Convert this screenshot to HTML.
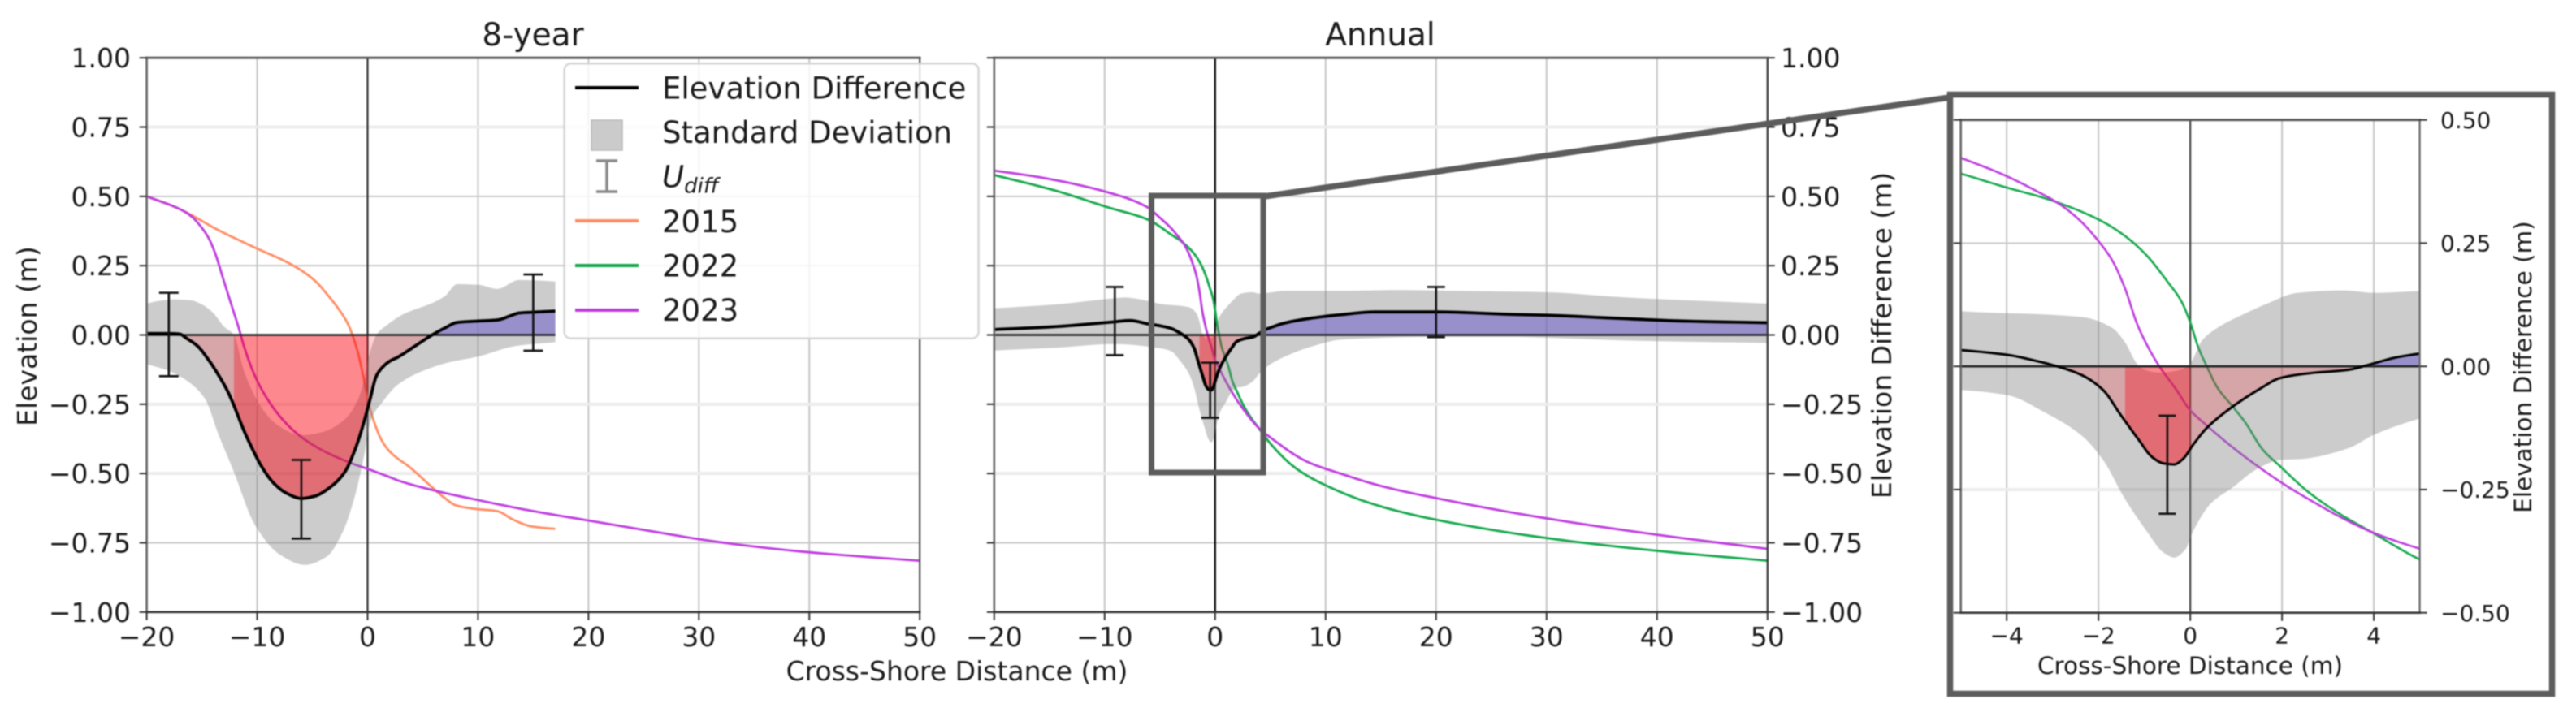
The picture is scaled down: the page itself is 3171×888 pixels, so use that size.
<!DOCTYPE html>
<html lang="en">
<head>
<meta charset="utf-8">
<title>Elevation difference chart</title>
<style>
html,body{margin:0;padding:0;background:#fff;width:3171px;height:880px;overflow:hidden;}
#frame{position:absolute;left:0;top:0;width:3171px;height:880px;overflow:hidden;}
svg{display:block;overflow:hidden;}
#root{filter:blur(0.8px);}
text{font-family:"DejaVu Sans","Liberation Sans",sans-serif;fill:#1a1a1a;}
</style>
</head>
<body>
<div id="frame">
<svg id="chart" xmlns="http://www.w3.org/2000/svg" width="3171" height="880" viewBox="0 0 3171 880">
  <g id="root">
  <g id="panel-a"></g>
  <g id="panel-b"></g>

  <text x="656" y="56" font-size="39" text-anchor="middle">8-year</text>
  <text x="1699" y="56" font-size="39" text-anchor="middle">Annual</text>
  <text x="1178" y="838" font-size="33" text-anchor="middle">Cross-Shore Distance (m)</text>
  <text transform="translate(45 414) rotate(-90)" font-size="33" text-anchor="middle">Elevation (m)</text>
  <text transform="translate(2328 413) rotate(-90)" font-size="33" text-anchor="middle">Elevation Difference (m)</text>

  <g>
    <rect x="694.6" y="78.3" width="510" height="338.4" rx="8" ry="8" fill="rgba(255,255,255,0.8)" stroke="rgba(204,204,204,0.8)" stroke-width="2.5"/>
    <line x1="708" y1="108" x2="786" y2="108" stroke="#000" stroke-width="4"/>
    <text x="815" y="121.7" font-size="37">Elevation Difference</text>
    <rect x="728" y="148" width="38" height="37" fill="#cbcbcb" stroke="#b8b8b8" stroke-width="1.5"/>
    <text x="815" y="176" font-size="37">Standard Deviation</text>
    <g stroke="#8a8a8a" stroke-width="3.5">
      <line x1="747" y1="198" x2="747" y2="236"/>
      <line x1="734" y1="198" x2="760" y2="198"/>
      <line x1="734" y1="236" x2="760" y2="236"/>
    </g>
    <text x="815" y="230.7" font-size="37" font-style="italic">U<tspan font-size="26" dy="7">diff</tspan></text>
    <line x1="708" y1="272" x2="786" y2="272" stroke="#ff8c64" stroke-width="4"/>
    <text x="815" y="286" font-size="37">2015</text>
    <line x1="708" y1="327" x2="786" y2="327" stroke="#12a84a" stroke-width="4"/>
    <text x="815" y="340.7" font-size="37">2022</text>
    <line x1="708" y1="382" x2="786" y2="382" stroke="#bf3be0" stroke-width="4"/>
    <text x="815" y="395" font-size="37">2023</text>
  </g>

  <rect x="1417.5" y="241" width="137.5" height="341" fill="none" stroke="#5c5c5c" stroke-width="7"/>
  <line x1="1556" y1="242" x2="2400" y2="120" stroke="#5c5c5c" stroke-width="7.5"/>
  <rect x="2400.5" y="116.5" width="741" height="738" fill="#fff" stroke="#5c5c5c" stroke-width="7.5"/>
  <g id="panel-c"></g>
  <text x="2696" y="830" font-size="29.5" text-anchor="middle">Cross-Shore Distance (m)</text>
  <text transform="translate(3116 452) rotate(-90)" font-size="29.5" text-anchor="middle">Elevation Difference (m)</text>
  </g>
</svg>
</div>

<script>
// ---------- tick data ----------
const xTicksMain = [-20, -10, 0, 10, 20, 30, 40, 50];
const xTickLabelsMain = ['\u221220', '\u221210', '0', '10', '20', '30', '40', '50'];
const yTicksMain = [-1, -0.75, -0.5, -0.25, 0, 0.25, 0.5, 0.75, 1];
const yTickLabelsMain = ['\u22121.00', '\u22120.75', '\u22120.50', '\u22120.25', '0.00', '0.25', '0.50', '0.75', '1.00'];
const paleGridMain = [0.75, -0.25, -0.5];
const xTicksInset = [-4, -2, 0, 2, 4];
const xTickLabelsInset = ['\u22124', '\u22122', '0', '2', '4'];
const yTicksInset = [-0.5, -0.25, 0, 0.25, 0.5];
const yTickLabelsInset = ['\u22120.50', '\u22120.25', '0.00', '0.25', '0.50'];
const paleGridInset = [-0.25];

// ---------- 8-year series ----------
const diff8X = [-20, -18, -17, -16.4, -15.4, -14.4, -13.5, -12.65, -12.15, -11.2, -10.2, -9.7, -8.5, -7.3, -6, -4.8, -3.4, -2.1, -1.1, -0.4, 0.2, 0.8, 1.3, 2, 2.75, 4.3, 5.85, 7, 8.1, 10, 11.75, 13, 13.7, 15, 17];
const diff8Y = [0.005, 0.005, 0.003, -0.012, -0.04, -0.09, -0.145, -0.205, -0.25, -0.345, -0.43, -0.468, -0.535, -0.572, -0.59, -0.582, -0.55, -0.497, -0.41, -0.324, -0.236, -0.148, -0.119, -0.095, -0.08, -0.04, 0, 0.025, 0.045, 0.05, 0.054, 0.07, 0.079, 0.082, 0.086];
const upper8X = [-20, -19, -17.5, -16, -15, -14, -13, -12.1, -11.2, -9.7, -8.2, -6, -4.06, -2.1, -0.9, -0.3, 0.1, 0.8, 1.8, 3.3, 5.85, 7, 8.1, 10, 11.75, 13.7, 15, 17];
const upper8Y = [0.113, 0.122, 0.128, 0.125, 0.11, 0.08, 0.03, 0, -0.13, -0.256, -0.324, -0.362, -0.35, -0.306, -0.236, -0.16, -0.08, 0, 0.037, 0.076, 0.115, 0.14, 0.183, 0.181, 0.166, 0.198, 0.197, 0.193];
const lower8X = [-20, -18, -16.4, -14.7, -13.55, -12.15, -10.2, -7.9, -5.7, -3.7, -2.3, -1.2, -0.34, 0.3, 1.35, 2.75, 5, 7.25, 10, 13.4, 17];
const lower8Y = [-0.105, -0.13, -0.164, -0.232, -0.354, -0.49, -0.686, -0.794, -0.83, -0.8, -0.715, -0.589, -0.44, -0.306, -0.242, -0.179, -0.13, -0.1, -0.078, -0.04, -0.026];
const line2015X = [-20, -16.9, -13.55, -10.2, -6.8, -4.84, -3.43, -2.3, -1.75, -0.9, -0.4, 0.1, 0.6, 1.3, 2.06, 3.9, 5.85, 7, 8, 9.8, 11.75, 13.2, 14.85, 17];
const line2015Y = [0.5, 0.452, 0.379, 0.315, 0.252, 0.198, 0.135, 0.075, 0.037, -0.06, -0.148, -0.247, -0.315, -0.382, -0.423, -0.48, -0.55, -0.589, -0.615, -0.628, -0.636, -0.667, -0.691, -0.7];
const line2023X8 = [-20, -16.9, -15.9, -15, -14.4, -13.85, -13, -12.15, -11.7, -11.2, -10.2, -9, -7.7, -6.3, -4.3, -1.6, 0.1, 2.06, 2.75, 6.1, 10, 14.6, 19.9, 26.4, 30, 34.25, 39.9, 45.5, 50];
const line2023Y8 = [0.5, 0.452, 0.426, 0.386, 0.35, 0.3, 0.193, 0.086, 0.03, -0.04, -0.148, -0.236, -0.305, -0.359, -0.412, -0.461, -0.485, -0.514, -0.525, -0.562, -0.596, -0.633, -0.669, -0.713, -0.737, -0.76, -0.784, -0.802, -0.815];
const errX8 = [-18, -6, 15];
const errLow8 = [-0.149, -0.735, -0.057];
const errHigh8 = [0.152, -0.451, 0.218];
const erosionRange8 = [-12.1, 0];
const accretionStart8 = 5.85;

// ---------- annual series ----------
const diffAX = [-20, -14.4, -9.2, -7.7, -6.1, -5, -3.96, -3.4, -2.83, -2.36, -1.9, -1.52, -1.14, -0.82, -0.58, -0.35, -0.16, 0.07, 0.36, 0.92, 1.53, 1.95, 2.6, 3.45, 3.92, 4.48, 5, 6.2, 8.8, 11.4, 14.5, 20, 26.9, 30, 37.2, 42.4, 50];
const diffAY = [0.0195, 0.03, 0.047, 0.052, 0.04, 0.033, 0.023, 0.012, -0.002, -0.018, -0.048, -0.098, -0.147, -0.185, -0.197, -0.199, -0.188, -0.158, -0.125, -0.082, -0.045, -0.024, -0.014, -0.007, 0.004, 0.018, 0.026, 0.042, 0.061, 0.073, 0.083, 0.083, 0.074, 0.071, 0.0585, 0.05, 0.044];
const upperAX = [-20, -14.4, -9.2, -8.2, -6, -5, -2.36, -1.7, -1.43, -1.15, -1, -0.68, -0.2, 0, 0.26, 0.64, 1.1, 1.67, 2.33, 3.36, 4, 5, 6.2, 11.4, 16.6, 21.7, 30, 37.2, 50];
const upperAY = [0.096, 0.11, 0.132, 0.135, 0.122, 0.112, 0.1, 0.078, 0.05, 0.004, -0.007, -0.0126, -0.007, 0.0066, 0.053, 0.081, 0.103, 0.127, 0.149, 0.154, 0.149, 0.153, 0.159, 0.159, 0.162, 0.159, 0.154, 0.135, 0.113];
const lowerAX = [-20, -14.4, -9.2, -5, -3.96, -3.2, -2.36, -1.9, -1.43, -0.96, -0.58, -0.35, -0.11, 0.07, 0.45, 0.92, 1.48, 1.95, 2.42, 3.45, 4, 5, 6.2, 8.8, 11.4, 19.7, 26.9, 30, 37.2, 50];
const lowerAY = [-0.056, -0.046, -0.033, -0.048, -0.059, -0.092, -0.141, -0.19, -0.268, -0.333, -0.378, -0.388, -0.372, -0.333, -0.278, -0.246, -0.207, -0.19, -0.188, -0.166, -0.139, -0.106, -0.08, -0.041, -0.017, -0.007, -0.007, -0.01, -0.02, -0.029];
const line2022X = [-20, -14.4, -9.75, -5.9, -5, -4.05, -3.1, -2, -1.43, -0.96, -0.49, -0.2, 0, 0.17, 0.36, 0.59, 0.92, 1.2, 1.58, 1.95, 2.6, 3.27, 4, 5, 7.3, 9.86, 14.5, 20, 30, 40, 50];
const line2022Y = [0.577, 0.52, 0.461, 0.413, 0.391, 0.364, 0.339, 0.298, 0.265, 0.226, 0.171, 0.133, 0.089, 0.04, 0, -0.043, -0.081, -0.114, -0.169, -0.202, -0.257, -0.3, -0.339, -0.392, -0.481, -0.54, -0.613, -0.667, -0.733, -0.779, -0.815];
const line2023XA = [-20, -15.9, -9.75, -6.14, -5, -4.05, -3.4, -2.83, -2.36, -2, -1.7, -1.43, -1.15, -0.86, -0.68, -0.3, -0.02, 0.36, 0.92, 1.58, 2.14, 2.7, 3.36, 4, 5, 8.3, 11.4, 15, 20, 30, 40, 50];
const line2023YA = [0.593, 0.569, 0.515, 0.461, 0.423, 0.388, 0.358, 0.328, 0.292, 0.254, 0.215, 0.16, 0.084, 0.029, 0.001, -0.048, -0.087, -0.12, -0.164, -0.21, -0.245, -0.276, -0.31, -0.338, -0.37, -0.457, -0.501, -0.545, -0.589, -0.662, -0.721, -0.772];
const errXA = [-9.08, -0.45, 20];
const errLowA = [-0.073, -0.299, -0.008];
const errHighA = [0.173, -0.1, 0.173];
const errXInset = [-0.5];
const errLowInset = [-0.299];
const errHighInset = [-0.1];
const erosionRangeA = [-1.42, 0];
const accretionStartA = 3.4;

// ---------- helpers ----------
const NS = 'http://www.w3.org/2000/svg';
function mk(tag, attrs, parent) {
  const el = document.createElementNS(NS, tag);
  for (const k in attrs) el.setAttribute(k, attrs[k]);
  parent.appendChild(el);
  return el;
}
// monotone cubic sampling of a data series, returned as pixel points
function sample(xs, ys, sx, sy) {
  const n = xs.length, d = [], m = new Array(n);
  for (let i = 0; i < n - 1; i++) d.push((ys[i + 1] - ys[i]) / (xs[i + 1] - xs[i]));
  m[0] = d[0]; m[n - 1] = d[n - 2];
  for (let i = 1; i < n - 1; i++) {
    if (d[i - 1] * d[i] <= 0) { m[i] = 0; continue; }
    const h0 = xs[i] - xs[i - 1], h1 = xs[i + 1] - xs[i];
    const w1 = 2 * h1 + h0, w2 = h1 + 2 * h0;
    m[i] = (w1 + w2) / (w1 / d[i - 1] + w2 / d[i]);
  }
  const pts = [];
  for (let i = 0; i < n - 1; i++) {
    const h = xs[i + 1] - xs[i];
    for (let s = 0; s < 8; s++) {
      const t = s / 8, t2 = t * t, t3 = t2 * t;
      const v = (2 * t3 - 3 * t2 + 1) * ys[i] + (t3 - 2 * t2 + t) * h * m[i] + (-2 * t3 + 3 * t2) * ys[i + 1] + (t3 - t2) * h * m[i + 1];
      pts.push([sx(xs[i] + t * h), sy(v)]);
    }
  }
  pts.push([sx(xs[n - 1]), sy(ys[n - 1])]);
  return pts;
}
function toPath(pts) {
  return pts.map((p, i) => (i ? 'L' : 'M') + p[0].toFixed(2) + ' ' + p[1].toFixed(2)).join('');
}

function drawAxes(cfg) {
  const g = cfg.group;
  const sx = v => cfg.left + (v - cfg.xlim[0]) * (cfg.right - cfg.left) / (cfg.xlim[1] - cfg.xlim[0]);
  const sy = v => cfg.bottom - (v - cfg.ylim[0]) * (cfg.bottom - cfg.top) / (cfg.ylim[1] - cfg.ylim[0]);
  const defs = mk('defs', {}, g);
  function addClip(id, x, y, w, h) {
    const c = mk('clipPath', { id: id }, defs);
    mk('rect', { x: x, y: y, width: w, height: h }, c);
    return 'url(#' + id + ')';
  }
  const W = cfg.right - cfg.left, zeroY = sy(0);
  const axesClip = addClip(cfg.id + '-axes', cfg.left, cfg.top, W, cfg.bottom - cfg.top);
  const belowClip = addClip(cfg.id + '-below', cfg.left, zeroY, W, cfg.bottom - zeroY);
  const aboveClip = addClip(cfg.id + '-above', sx(cfg.accretionStart), cfg.top, cfg.right - sx(cfg.accretionStart), zeroY - cfg.top);
  const brightClip = addClip(cfg.id + '-bright', sx(cfg.erosion[0]), zeroY, sx(cfg.erosion[1]) - sx(cfg.erosion[0]), cfg.bottom - zeroY);

  // grid
  cfg.xTicks.forEach(v => {
    if (v === 0) return;
    const el = mk('line', { x1: sx(v), x2: sx(v), y1: cfg.top, y2: cfg.bottom, stroke: '#c6c6c6', 'stroke-width': 2 }, g);
    
    
  });
  cfg.yTicks.forEach(v => {
    if (v === 0 || v === cfg.ylim[0] || v === cfg.ylim[1]) return;
    const pale = cfg.paleGrid.includes(v);
    const el = mk('line', { x1: cfg.left, x2: cfg.right, y1: sy(v), y2: sy(v), stroke: pale ? '#ececec' : '#c8c8c8', 'stroke-width': pale ? 4 : 2 }, g);
    
    
  });

  // shoreline reference
  const vz = mk('line', { x1: sx(0), x2: sx(0), y1: cfg.top, y2: cfg.bottom, stroke: cfg.zeroColor, 'stroke-width': 2.2 }, g);
  
  

  // profile lines (under the band and fills)
  cfg.lines.forEach(l => {
    const el = mk('path', { d: toPath(sample(l.x, l.y, sx, sy)), fill: 'none', stroke: l.color, 'stroke-width': cfg.lineWidth, 'clip-path': axesClip, 'stroke-linejoin': 'round' }, g);
    
    
  });

  // standard deviation band
  const up = sample(cfg.upperX, cfg.upperY, sx, sy);
  const lo = sample(cfg.lowerX, cfg.lowerY, sx, sy).reverse();
  const band = mk('path', { d: toPath(up.concat(lo)) + 'Z', fill: 'rgba(128,128,128,0.4)', 'clip-path': axesClip }, g);
  
  

  // fills between the difference and zero
  const diffPts = sample(cfg.diffX, cfg.diffY, sx, sy);
  const diffArea = toPath(diffPts) + 'L' + diffPts[diffPts.length - 1][0] + ' ' + zeroY + 'L' + diffPts[0][0] + ' ' + zeroY + 'Z';
  const pale = mk('path', { d: diffArea, fill: 'rgba(255,0,16,0.19)', 'clip-path': belowClip }, g);
  
  
  const bright = mk('path', { d: diffArea, fill: 'rgba(250,0,16,0.34)', 'clip-path': brightClip }, g);
  
  
  const accretion = mk('path', { d: diffArea, fill: 'rgba(110,95,200,0.55)', 'clip-path': aboveClip }, g);
  
  

  // zero line sits above the fills
  const hz = mk('line', { x1: cfg.left, x2: sx(cfg.zeroEnd), y1: zeroY, y2: zeroY, stroke: '#222', 'stroke-width': 2.6 }, g);
  
  

  // difference line
  const diffLine = mk('path', { d: toPath(diffPts), fill: 'none', stroke: '#000', 'stroke-width': cfg.diffWidth, 'clip-path': axesClip, 'stroke-linejoin': 'round' }, g);
  
  

  // error bars
  cfg.errX.forEach((v, i) => {
    const eg = mk('g', { stroke: '#111', 'stroke-width': 2.6 }, g);
    
    
    const x = sx(v), a = sy(cfg.errLow[i]), b = sy(cfg.errHigh[i]), c = cfg.capHalf;
    mk('line', { x1: x, x2: x, y1: a, y2: b }, eg);
    mk('line', { x1: x - c, x2: x + c, y1: a, y2: a }, eg);
    mk('line', { x1: x - c, x2: x + c, y1: b, y2: b }, eg);
  });

  // spines
  [['left', cfg.left, cfg.top, cfg.left, cfg.bottom, '#666', 2.6],
   ['right', cfg.right, cfg.top, cfg.right, cfg.bottom, cfg.rightSpine, 2.2],
   ['top', cfg.left, cfg.top, cfg.right, cfg.top, '#555', 2.8],
   ['bottom', cfg.left, cfg.bottom, cfg.right, cfg.bottom, '#333', 2.6]].forEach(s => {
    const el = mk('line', { x1: s[1], y1: s[2], x2: s[3], y2: s[4], stroke: s[5], 'stroke-width': s[6], 'stroke-linecap': 'square' }, g);
    
    
  });

  // x ticks
  cfg.xTicks.forEach((v, i) => {
    const t = mk('line', { x1: sx(v), x2: sx(v), y1: cfg.bottom, y2: cfg.bottom + 10, stroke: '#333', 'stroke-width': 2 }, g);
    
    
    const l = mk('text', { x: sx(v), y: cfg.xLabelY, 'font-size': cfg.tickFont, 'text-anchor': 'middle' }, g);
    
    
    l.textContent = cfg.xLabels[i];
  });
  // y ticks
  cfg.yTicks.forEach((v, i) => {
    if (cfg.tickLeft) {
      const t = mk('line', { x1: cfg.left - 9, x2: cfg.left, y1: sy(v), y2: sy(v), stroke: '#333', 'stroke-width': 2 }, g);
      
      
    }
    if (cfg.tickRight) {
      const t = mk('line', { x1: cfg.right, x2: cfg.right + 9, y1: sy(v), y2: sy(v), stroke: '#333', 'stroke-width': 2 }, g);
      
      
    }
    const l = mk('text', { x: cfg.yLabelX, y: sy(v) + cfg.tickFont * 0.365, 'font-size': cfg.tickFont, 'text-anchor': cfg.yLabelAnchor }, g);
    
    
    l.textContent = cfg.yLabels[i];
  });
}

drawAxes({
  id: 'a', group: document.getElementById('panel-a'),
  left: 180.6, right: 1132.2, top: 71.2, bottom: 753.8, xlim: [-20, 50], ylim: [-1, 1],
  xTicks: xTicksMain, xLabels: xTickLabelsMain, yTicks: yTicksMain, yLabels: yTickLabelsMain, paleGrid: paleGridMain,
  zeroColor: '#333', zeroEnd: 17, rightSpine: '#555', tickFont: 33, xLabelY: 796, yLabelX: 161, yLabelAnchor: 'end',
  tickLeft: true, tickRight: false, lineWidth: 2.8, diffWidth: 3.8, capHalf: 12,
  lines: [{ x: line2015X, y: line2015Y, color: '#ff8c64' }, { x: line2023X8, y: line2023Y8, color: '#bf3be0' }],
  upperX: upper8X, upperY: upper8Y, lowerX: lower8X, lowerY: lower8Y, diffX: diff8X, diffY: diff8Y,
  erosion: erosionRange8, accretionStart: accretionStart8, errX: errX8, errLow: errLow8, errHigh: errHigh8
});

drawAxes({
  id: 'b', group: document.getElementById('panel-b'),
  left: 1223.8, right: 2175.8, top: 71.2, bottom: 753.8, xlim: [-20, 50], ylim: [-1, 1],
  xTicks: xTicksMain, xLabels: xTickLabelsMain, yTicks: yTicksMain, yLabels: yTickLabelsMain, paleGrid: paleGridMain,
  zeroColor: '#000', zeroEnd: 50, rightSpine: '#333', tickFont: 33, xLabelY: 796, yLabelX: 2192, yLabelAnchor: 'start',
  tickLeft: true, tickRight: true, lineWidth: 2.8, diffWidth: 3.8, capHalf: 11,
  lines: [{ x: line2022X, y: line2022Y, color: '#12a84a' }, { x: line2023XA, y: line2023YA, color: '#bf3be0' }],
  upperX: upperAX, upperY: upperAY, lowerX: lowerAX, lowerY: lowerAY, diffX: diffAX, diffY: diffAY,
  erosion: erosionRangeA, accretionStart: accretionStartA, errX: errXA, errLow: errLowA, errHigh: errHighA
});

drawAxes({
  id: 'c', group: document.getElementById('panel-c'),
  left: 2413.7, right: 2978.6, top: 147.7, bottom: 754.7, xlim: [-5, 5], ylim: [-0.5, 0.5],
  xTicks: xTicksInset, xLabels: xTickLabelsInset, yTicks: yTicksInset, yLabels: yTickLabelsInset, paleGrid: paleGridInset,
  zeroColor: '#444', zeroEnd: 5, rightSpine: '#666', tickFont: 28, xLabelY: 792.7, yLabelX: 3004, yLabelAnchor: 'start',
  tickLeft: true, tickRight: true, lineWidth: 2.6, diffWidth: 3, capHalf: 10.5,
  lines: [{ x: line2022X, y: line2022Y, color: '#12a84a' }, { x: line2023XA, y: line2023YA, color: '#bf3be0' }],
  upperX: upperAX, upperY: upperAY, lowerX: lowerAX, lowerY: lowerAY, diffX: diffAX, diffY: diffAY,
  erosion: erosionRangeA, accretionStart: accretionStartA, errX: errXInset, errLow: errLowInset, errHigh: errHighInset
});
</script>
</body>
</html>
